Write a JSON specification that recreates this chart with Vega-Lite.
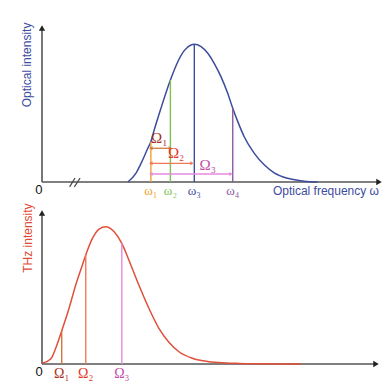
{
  "$schema": "https://vega.github.io/schema/vega-lite/v6.json",
  "padding": {"left": 20, "top": 22, "right": 8, "bottom": 6},
  "config": {"view": {"stroke": null}},
  "bounds": "flush",
  "spacing": 31,
  "datasets": {
    "axes": [{"a": 0, "b": 0, "a2": 0, "b2": 100}, {"a": 0, "b": 0, "a2": 100, "b2": 0}],
    "heads": [{"a": 0, "b": 100, "dir": "up"}, {"a": 100, "b": 0, "dir": "right"}],
    "optical": [
      {"f": 25.5, "i": 0}, {"f": 27.9, "i": 5.8}, {"f": 29.4, "i": 12.1}, {"f": 31.4, "i": 21.9},
      {"f": 32.3, "i": 26.2}, {"f": 33.3, "i": 33.8}, {"f": 35.3, "i": 47.9}, {"f": 38.1, "i": 66.2},
      {"f": 40.3, "i": 78.1}, {"f": 42.2, "i": 85.3}, {"f": 44.2, "i": 89.0}, {"f": 45.2, "i": 89.4},
      {"f": 47.2, "i": 87.9}, {"f": 49.2, "i": 83.6}, {"f": 51.1, "i": 77.1}, {"f": 53.1, "i": 68.4},
      {"f": 55.1, "i": 57.6}, {"f": 56.6, "i": 47.9}, {"f": 58.1, "i": 39.2}, {"f": 60.0, "i": 29.4},
      {"f": 63.0, "i": 18.6}, {"f": 66.0, "i": 11.0}, {"f": 68.9, "i": 6.0}, {"f": 72.9, "i": 2.4},
      {"f": 77.8, "i": 0.5}, {"f": 81.8, "i": 0}
    ],
    "omega": [
      {"id": "w1", "f": 32.3, "top": 26, "label": "ω₁"},
      {"id": "w2", "f": 38.1, "top": 66.2, "label": "ω₂"},
      {"id": "w3", "f": 45.2, "top": 89.4, "label": "ω₃"},
      {"id": "w4", "f": 56.6, "top": 47.9, "label": "ω₄"}
    ],
    "spans": [
      {"id": "O1", "from": 32.3, "to": 38.1, "level": 21.9, "label": "Ω₁", "lx": 34.8, "ly": 28.4},
      {"id": "O2", "from": 32.3, "to": 44.5, "level": 12.1, "label": "Ω₂", "lx": 39.8, "ly": 18.6},
      {"id": "O3", "from": 32.3, "to": 56.1, "level": 5.2, "label": "Ω₃", "lx": 49.2, "ly": 11.0}
    ],
    "thz": [
      {"f": 0.1, "i": 0.5}, {"f": 2.6, "i": 3.3}, {"f": 4.1, "i": 10.4}, {"f": 5.9, "i": 21.9},
      {"f": 8.1, "i": 36.9}, {"f": 10.1, "i": 52.3}, {"f": 12.1, "i": 65.6}, {"f": 13.1, "i": 72.2},
      {"f": 15.1, "i": 83.2}, {"f": 17.1, "i": 89.4}, {"f": 19.1, "i": 90.9}, {"f": 21.6, "i": 87.6},
      {"f": 23.9, "i": 79.9}, {"f": 26.0, "i": 68.9}, {"f": 29.0, "i": 52.3}, {"f": 32.0, "i": 36.9},
      {"f": 35.0, "i": 23.6}, {"f": 38.0, "i": 14.4}, {"f": 41.0, "i": 8.1}, {"f": 45.0, "i": 3.8},
      {"f": 50.0, "i": 1.5}, {"f": 55.0, "i": 0.7}, {"f": 59.0, "i": 0.4}, {"f": 65.6, "i": 0.1},
      {"f": 77.5, "i": 0}
    ],
    "bigomega": [
      {"id": "O1", "f": 5.9, "top": 21.9, "label": "Ω₁"},
      {"id": "O2", "f": 13.1, "top": 72.2, "label": "Ω₂"},
      {"id": "O3", "f": 23.9, "top": 79.9, "label": "Ω₃"}
    ]
  },
  "vconcat": [
    {
      "width": 337,
      "height": 154,
      "layer": [
        {
          "data": {"name": "axes"},
          "mark": {"type": "rule", "color": "#555555", "strokeWidth": 1.6},
          "encoding": {
            "x": {"field": "a", "type": "quantitative", "scale": {"domain": [0, 100], "nice": false, "zero": false}, "axis": null},
            "x2": {"field": "a2"},
            "y": {"field": "b", "type": "quantitative", "scale": {"domain": [0, 100], "nice": false, "zero": false}, "axis": null},
            "y2": {"field": "b2"}
          }
        },
        {
          "data": {"values": [{"a": 8.2, "b": -3.2, "a2": 9.8, "b2": 2.6}, {"a": 9.6, "b": -3.2, "a2": 11.3, "b2": 2.6}]},
          "mark": {"type": "rule", "color": "#444444", "strokeWidth": 1.2},
          "encoding": {
            "x": {"field": "a", "type": "quantitative", "axis": null},
            "x2": {"field": "a2"},
            "y": {"field": "b", "type": "quantitative", "axis": null},
            "y2": {"field": "b2"}
          }
        },
        {
          "data": {"name": "heads"},
          "mark": {"type": "point", "filled": true, "opacity": 1, "color": "#222222", "size": 40},
          "encoding": {
            "x": {"field": "a", "type": "quantitative", "axis": null},
            "y": {"field": "b", "type": "quantitative", "axis": null},
            "shape": {"field": "dir", "type": "nominal", "scale": {"domain": ["up", "right"], "range": ["triangle-up", "triangle-right"]}, "legend": null}
          }
        },
        {
          "data": {"name": "optical"},
          "mark": {"type": "line", "color": "#3d4c9c", "strokeWidth": 1.5, "interpolate": "monotone"},
          "encoding": {
            "x": {"field": "f", "type": "quantitative", "axis": null},
            "y": {"field": "i", "type": "quantitative", "axis": null}
          }
        },
        {
          "data": {"name": "omega"},
          "mark": {"type": "rule", "strokeWidth": 1.4},
          "encoding": {
            "x": {"field": "f", "type": "quantitative", "axis": null},
            "y": {"field": "top", "type": "quantitative", "axis": null},
            "y2": {"datum": 0},
            "color": {"field": "id", "type": "nominal", "legend": null}
          }
        },
        {
          "data": {"name": "omega"},
          "mark": {"type": "text", "font": "Liberation Serif", "fontSize": 13},
          "encoding": {
            "x": {"field": "f", "type": "quantitative", "axis": null},
            "y": {"datum": -5.8, "type": "quantitative", "axis": null},
            "text": {"field": "label"},
            "color": {"field": "id", "type": "nominal", "legend": null}
          }
        },
        {
          "data": {"name": "spans"},
          "mark": {"type": "rule", "strokeWidth": 1.3},
          "encoding": {
            "x": {"field": "from", "type": "quantitative", "axis": null},
            "x2": {"field": "to"},
            "y": {"field": "level", "type": "quantitative", "axis": null},
            "color": {"field": "id", "type": "nominal", "legend": null}
          }
        },
        {
          "data": {"name": "spans"},
          "mark": {"type": "point", "shape": "triangle-left", "filled": true, "opacity": 1, "size": 16},
          "encoding": {
            "x": {"field": "from", "type": "quantitative", "axis": null},
            "y": {"field": "level", "type": "quantitative", "axis": null},
            "color": {"field": "id", "type": "nominal", "legend": null}
          }
        },
        {
          "data": {"name": "spans"},
          "mark": {"type": "point", "shape": "triangle-right", "filled": true, "opacity": 1, "size": 16},
          "encoding": {
            "x": {"field": "to", "type": "quantitative", "axis": null},
            "y": {"field": "level", "type": "quantitative", "axis": null},
            "color": {"field": "id", "type": "nominal", "legend": null}
          }
        },
        {
          "data": {"name": "spans"},
          "mark": {"type": "text", "font": "Liberation Serif", "fontSize": 15},
          "encoding": {
            "x": {"field": "lx", "type": "quantitative", "axis": null},
            "y": {"field": "ly", "type": "quantitative", "axis": null},
            "text": {"field": "label"},
            "color": {"field": "label", "type": "nominal", "legend": null,
              "scale": {"domain": ["w1", "w2", "w3", "w4", "O1", "O2", "O3", "Ω₁", "Ω₂", "Ω₃"],
                        "range": ["#f0a030", "#80c050", "#3d4c9c", "#8e5aa0", "#d2783c", "#f07a58", "#e48ae0", "#a83228", "#e8352a", "#c050a8"]}}
          }
        },
        {
          "data": {"values": [{"t": "0"}]},
          "mark": {"type": "text", "font": "Liberation Sans", "fontSize": 13, "color": "#111111"},
          "encoding": {
            "x": {"datum": -0.9, "type": "quantitative", "axis": null},
            "y": {"datum": -5.2, "type": "quantitative", "axis": null},
            "text": {"field": "t"}
          }
        },
        {
          "data": {"values": [{"t": "Optical frequency ω"}]},
          "mark": {"type": "text", "font": "Liberation Sans", "fontSize": 12, "color": "#3d4ca0", "align": "right"},
          "encoding": {
            "x": {"datum": 100, "type": "quantitative", "axis": null},
            "y": {"datum": -5.8, "type": "quantitative", "axis": null},
            "text": {"field": "t"}
          }
        },
        {
          "data": {"values": [{"t": "Optical intensity"}]},
          "mark": {"type": "text", "font": "Liberation Sans", "fontSize": 12, "color": "#3d4ca0", "angle": 270},
          "encoding": {
            "x": {"datum": -4.5, "type": "quantitative", "axis": null},
            "y": {"datum": 76, "type": "quantitative", "axis": null},
            "text": {"field": "t"}
          }
        }
      ]
    },
    {
      "width": 334,
      "height": 151,
      "layer": [
        {
          "data": {"name": "axes"},
          "mark": {"type": "rule", "color": "#555555", "strokeWidth": 1.6},
          "encoding": {
            "x": {"field": "a", "type": "quantitative", "scale": {"domain": [0, 100], "nice": false, "zero": false}, "axis": null},
            "x2": {"field": "a2"},
            "y": {"field": "b", "type": "quantitative", "scale": {"domain": [0, 100], "nice": false, "zero": false}, "axis": null},
            "y2": {"field": "b2"}
          }
        },
        {
          "data": {"name": "heads"},
          "mark": {"type": "point", "filled": true, "opacity": 1, "color": "#222222", "size": 40},
          "encoding": {
            "x": {"field": "a", "type": "quantitative", "axis": null},
            "y": {"field": "b", "type": "quantitative", "axis": null},
            "shape": {"field": "dir", "type": "nominal", "scale": {"domain": ["up", "right"], "range": ["triangle-up", "triangle-right"]}, "legend": null}
          }
        },
        {
          "data": {"name": "thz"},
          "mark": {"type": "line", "color": "#e0503a", "strokeWidth": 1.5, "interpolate": "monotone"},
          "encoding": {
            "x": {"field": "f", "type": "quantitative", "axis": null},
            "y": {"field": "i", "type": "quantitative", "axis": null}
          }
        },
        {
          "data": {"name": "bigomega"},
          "mark": {"type": "rule", "strokeWidth": 1.4},
          "encoding": {
            "x": {"field": "f", "type": "quantitative", "axis": null},
            "y": {"field": "top", "type": "quantitative", "axis": null},
            "y2": {"datum": 0},
            "color": {"field": "id", "type": "nominal", "legend": null}
          }
        },
        {
          "data": {"name": "bigomega"},
          "mark": {"type": "text", "font": "Liberation Serif", "fontSize": 14},
          "encoding": {
            "x": {"field": "f", "type": "quantitative", "axis": null},
            "y": {"datum": -6.3, "type": "quantitative", "axis": null},
            "text": {"field": "label"},
            "color": {"field": "label", "type": "nominal", "legend": null,
              "scale": {"domain": ["O1", "O2", "O3", "Ω₁", "Ω₂", "Ω₃"],
                        "range": ["#8c3c3c", "#e05050", "#c87ab8", "#a03030", "#e03a30", "#b060a0"]}}
          }
        },
        {
          "data": {"values": [{"t": "0"}]},
          "mark": {"type": "text", "font": "Liberation Sans", "fontSize": 13, "color": "#111111"},
          "encoding": {
            "x": {"datum": -0.9, "type": "quantitative", "axis": null},
            "y": {"datum": -5.3, "type": "quantitative", "axis": null},
            "text": {"field": "t"}
          }
        },
        {
          "data": {"values": [{"t": "THz intensity"}]},
          "mark": {"type": "text", "font": "Liberation Sans", "fontSize": 12, "color": "#e04a35", "angle": 270},
          "encoding": {
            "x": {"datum": -4.2, "type": "quantitative", "axis": null},
            "y": {"datum": 83.4, "type": "quantitative", "axis": null},
            "text": {"field": "t"}
          }
        }
      ]
    }
  ]
}
